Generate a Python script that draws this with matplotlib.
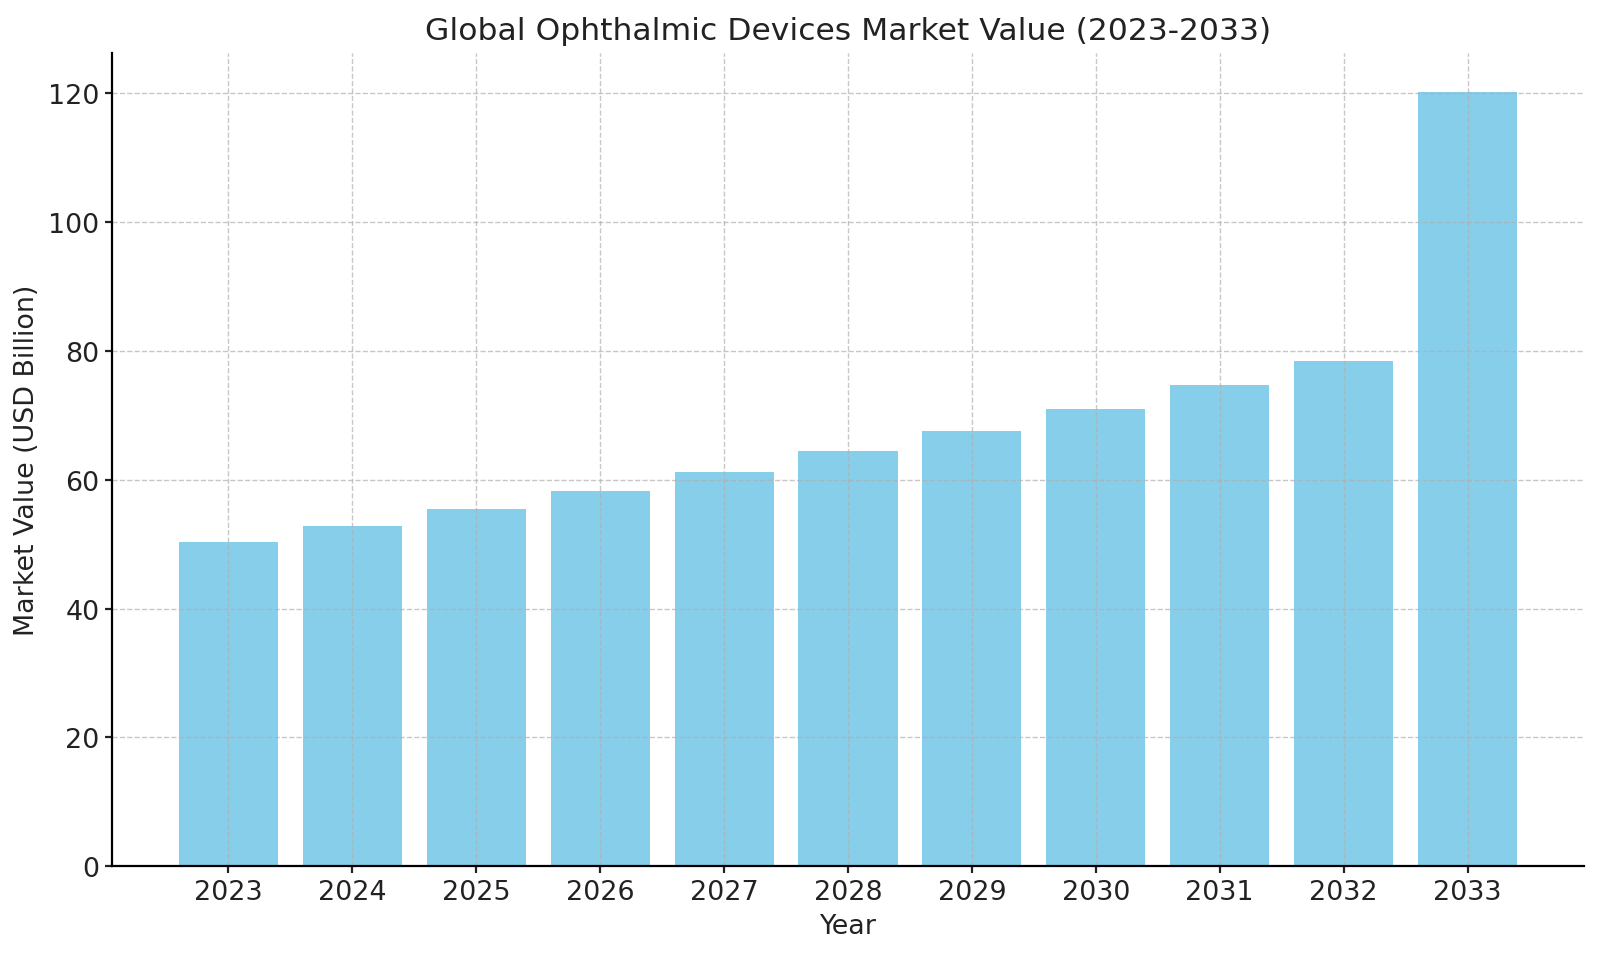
import matplotlib.pyplot as plt

years = ['2023', '2024', '2025', '2026', '2027', '2028', '2029', '2030', '2031', '2032', '2033']
market_value = [50.3, 52.8, 55.5, 58.2, 61.2, 64.4, 67.6, 71.0, 74.7, 78.4, 120.2]


def main():
    plt.rcParams['text.color'] = '#222222'
    plt.rcParams['axes.labelcolor'] = '#222222'
    plt.rcParams['xtick.color'] = '#222222'
    plt.rcParams['ytick.color'] = '#222222'

    fig, ax = plt.subplots(figsize=(8, 4.77), dpi=200)
    ax.bar(years, market_value, color='skyblue')
    ax.set_title('Global Ophthalmic Devices Market Value (2023-2033)', fontsize=11.3, pad=5)
    ax.set_xlabel('Year', fontsize=9.7, labelpad=3)
    ax.set_ylabel('Market Value (USD Billion)', fontsize=9.7, labelpad=3)
    ax.tick_params(labelsize=9.7, length=2.5, pad=2)
    ax.grid(True, linestyle='--', linewidth=0.5, alpha=0.7)
    ax.spines['top'].set_visible(False)
    ax.spines['right'].set_visible(False)
    fig.subplots_adjust(left=0.070, right=0.990, bottom=0.091, top=0.943)
    plt.savefig('out.png')


if __name__ == '__main__':
    main()
